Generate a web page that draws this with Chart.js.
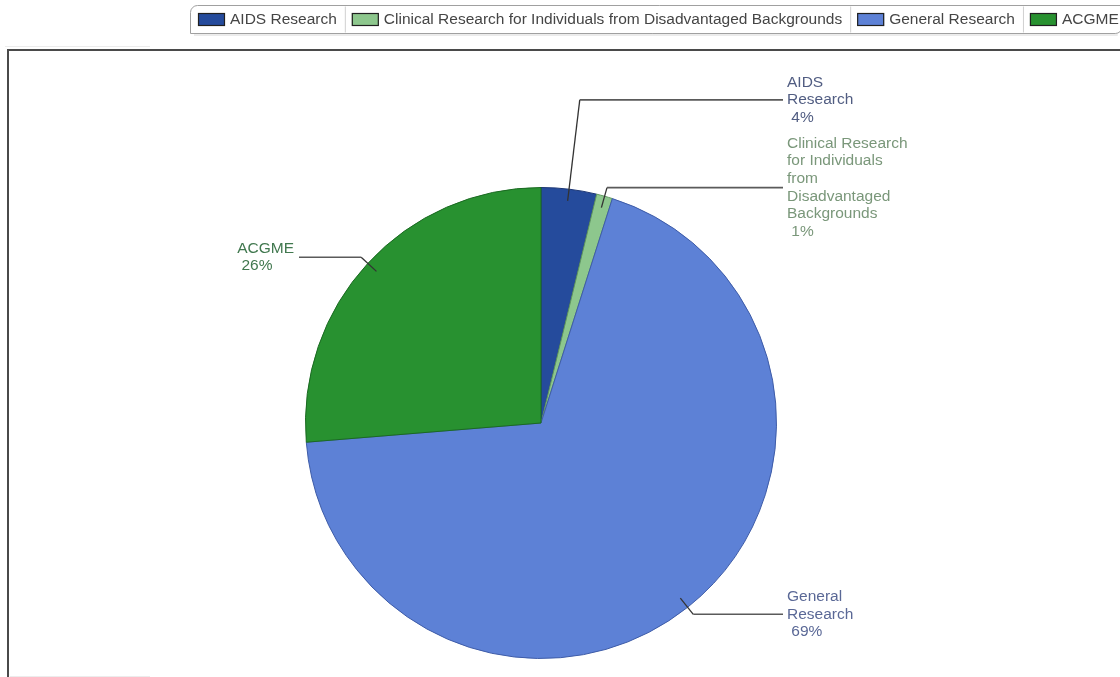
<!DOCTYPE html>
<html>
<head>
<meta charset="utf-8">
<script src="https://cdn.jsdelivr.net/npm/chart.js@4.4.1/dist/chart.umd.min.js"></script>
<style>
  html, body { margin: 0; padding: 0; background: #ffffff; }
  #wrap { position: relative; width: 1120px; height: 677px; overflow: hidden; }
  canvas { display: block; }
</style>
</head>
<body>
<div id="wrap"><canvas id="c" width="1120" height="677"></canvas></div>
<script>
// ---- data ----
const categories = [
  "AIDS Research",
  "Clinical Research for Individuals from Disadvantaged Backgrounds",
  "General Research",
  "ACGME"
];
const shares = [3.8, 1.1, 68.8, 26.3];
const labelLines = [
  ["AIDS", "Research"],
  ["Clinical Research", "for Individuals", "from", "Disadvantaged", "Backgrounds"],
  ["General", "Research"],
  ["ACGME"]
];

// ---- styles ----
const sliceColors = ["#254b9c", "#8dc78d", "#5d81d6", "#289130"];
const sliceBorders = ["#1b3675", "#5f965f", "#3e5ca8", "#1b6a22"];
const labelColors = ["#515d82", "#7a977a", "#5a6896", "#41784f"];
const FONT = '"Liberation Sans", Arial, sans-serif';

const total = shares.reduce((a, b) => a + b, 0);

const framePlugin = {
  id: 'frame',
  beforeDraw(chart) {
    const ctx = chart.ctx;
    ctx.save();
    ctx.fillStyle = '#ffffff';
    ctx.fillRect(0, 0, chart.width, chart.height);
    ctx.strokeStyle = '#4a4a4a';
    ctx.lineWidth = 2;
    ctx.strokeRect(8, 50, chart.width + 20, chart.height + 20);
    ctx.strokeStyle = '#ececec';
    ctx.lineWidth = 1;
    ctx.beginPath();
    ctx.moveTo(5, 46.5); ctx.lineTo(150, 46.5);
    ctx.moveTo(10, 676.5); ctx.lineTo(150, 676.5);
    ctx.stroke();
    ctx.restore();
  }
};

const legendPlugin = {
  id: 'tabLegend',
  afterDraw(chart) {
    const ctx = chart.ctx;
    ctx.save();
    ctx.font = '15.5px ' + FONT;
    const left = 190, top = 5.5, h = 28;
    let x = left + 8;
    const items = [];
    categories.forEach((c, i) => {
      const w = ctx.measureText(c).width;
      items.push({ x, w, i });
      x += 27 + 5 + w + 8;
      if (i < categories.length - 1) { items[i].sep = x; x += 7; }
    });
    const right = Math.max(x - 5, 1118);
    ctx.beginPath();
    ctx.roundRect(left + 0.5, top, right - left, h, [7, 0, 7, 0]);
    ctx.fillStyle = '#ffffff';
    ctx.fill();
    ctx.strokeStyle = '#a0a0a0';
    ctx.lineWidth = 1;
    ctx.stroke();
    ctx.strokeStyle = '#d8d8d8';
    ctx.beginPath();
    ctx.moveTo(left + 4, top + h + 1.5); ctx.lineTo(right - 4, top + h + 1.5);
    ctx.stroke();
    items.forEach(it => {
      ctx.fillStyle = sliceColors[it.i];
      ctx.fillRect(it.x, 13, 27, 13);
      ctx.strokeStyle = '#202020';
      ctx.lineWidth = 1.2;
      ctx.strokeRect(it.x + 0.5, 13.5, 26, 12);
      ctx.fillStyle = '#454545';
      ctx.textBaseline = 'middle';
      ctx.textAlign = 'left';
      ctx.fillText(categories[it.i], it.x + 32, 20);
      if (it.sep) {
        ctx.strokeStyle = '#d0d0d0';
        ctx.lineWidth = 1;
        ctx.beginPath();
        ctx.moveTo(it.sep + 0.5, top + 1); ctx.lineTo(it.sep + 0.5, top + h - 1);
        ctx.stroke();
      }
    });
    ctx.restore();
  }
};

const labelPlugin = {
  id: 'pieLabels',
  afterDatasetsDraw(chart) {
    const ctx = chart.ctx;
    const meta = chart.getDatasetMeta(0);
    const lineH = 17.6;
    const gap = 8.5;
    ctx.save();
    ctx.font = '15.5px ' + FONT;
    const labs = meta.data.map((arc, i) => {
      const p = arc.getProps(['x', 'y', 'startAngle', 'endAngle', 'outerRadius'], true);
      const mid = (p.startAngle + p.endAngle) / 2;
      const r = p.outerRadius;
      const cos = Math.cos(mid), sin = Math.sin(mid);
      const lines = labelLines[i].concat([' ' + Math.round(shares[i] / total * 100) + '%']);
      return {
        i, p, mid, r, cos, sin, lines,
        side: cos >= 0 ? 1 : -1,
        y: p.y + sin * (r + 9),
        h: lines.length * lineH
      };
    });
    [1, -1].forEach(side => {
      const group = labs.filter(l => l.side === side).sort((a, b) => a.y - b.y);
      for (let k = group.length - 2; k >= 0; k--) {
        const a = group[k], b = group[k + 1];
        const limit = b.y - b.h / 2 - gap - a.h / 2;
        if (a.y > limit) a.y = limit;
      }
    });
    labs.forEach(l => {
      const { p, r, cos, sin } = l;
      const ax = p.x + cos * r * 0.95, ay = p.y + sin * r * 0.95;
      let d = r + 9;
      if (Math.abs(sin) > 0.05) {
        const dd = (l.y - p.y) / sin;
        if (dd > d) d = dd;
      }
      const ex = p.x + cos * d, ey = l.y;
      const endX = p.x + l.side * (r + 6.5);
      ctx.strokeStyle = '#333333';
      ctx.lineWidth = 1.3;
      ctx.beginPath();
      ctx.moveTo(ax, ay);
      ctx.lineTo(ex, ey);
      ctx.stroke();
      ctx.strokeStyle = '#5a5a5a';
      ctx.lineWidth = 1.6;
      ctx.beginPath();
      ctx.moveTo(ex, ey);
      ctx.lineTo(endX, ey);
      ctx.stroke();
      ctx.fillStyle = labelColors[l.i];
      ctx.textBaseline = 'middle';
      ctx.textAlign = 'left';
      let tx;
      if (l.side === 1) {
        tx = endX + 4;
      } else {
        const bw = Math.max(...l.lines.map(s => ctx.measureText(s).width));
        tx = endX - 5 - bw;
      }
      const y0 = l.y - (l.lines.length - 1) * lineH / 2;
      l.lines.forEach((s, k) => ctx.fillText(s, tx, y0 + k * lineH));
    });
    ctx.restore();
  }
};

new Chart(document.getElementById('c'), {
  type: 'pie',
  data: {
    labels: categories,
    datasets: [{
      data: shares,
      backgroundColor: sliceColors,
      borderColor: sliceBorders,
      borderWidth: 1
    }]
  },
  options: {
    responsive: false,
    animation: false,
    devicePixelRatio: 1,
    layout: { padding: { top: 187, bottom: 18, left: 305, right: 343 } },
    plugins: {
      legend: { display: false },
      tooltip: { enabled: false }
    }
  },
  plugins: [framePlugin, labelPlugin, legendPlugin]
});
</script>
</body>
</html>
